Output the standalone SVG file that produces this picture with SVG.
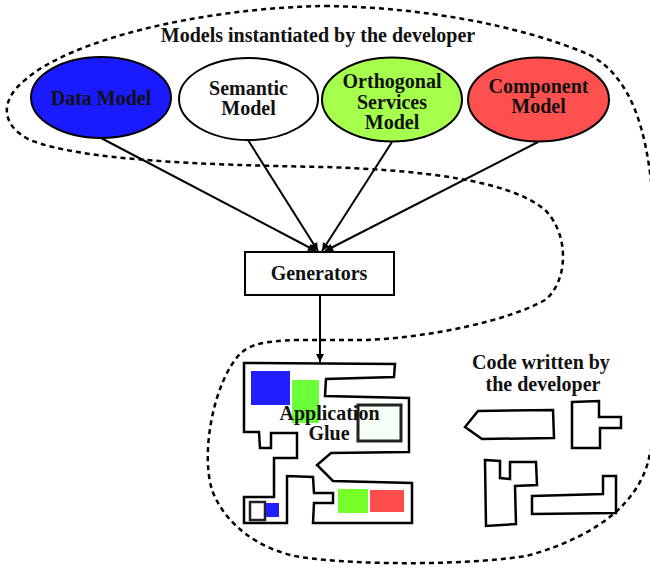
<svg xmlns="http://www.w3.org/2000/svg" width="650" height="567" viewBox="0 0 650 567">
<defs>
<marker id="arr" viewBox="0 0 10 10" refX="10" refY="5" markerWidth="10" markerHeight="8" markerUnits="userSpaceOnUse" orient="auto">
<path d="M0,0 L10,5 L0,10 Z" fill="#000"/>
</marker>
</defs>
<style>
text{font-family:"Liberation Serif","Times New Roman",serif;font-weight:bold;font-size:20px;fill:#111;text-anchor:middle}
.node{stroke:#000;stroke-width:2}
.edge{stroke:#000;stroke-width:2;fill:none;marker-end:url(#arr)}
.dash{fill:none;stroke:#000;stroke-width:2.5;stroke-dasharray:5,4}
.piece{fill:none;stroke:#000;stroke-width:2.5;stroke-linejoin:miter}
</style>
<rect width="650" height="567" fill="#fff"/>
<path class="dash" d="M325,6 C420,7 520,25 590,55 C632,78 646,130 652,190 C672,280 672,390 650,453 C642,500 600,535 530,555 C480,565 360,566 300,557 C260,550 225,525 212,490 C200,450 215,380 240,354 C250,344 265,341 297,340 L363,340 C430,338 510,320 545,300 C568,282 570,235 545,210 C510,180 420,170 325,167 C200,165 80,160 30,140 C0,125 0,100 25,80 C70,40 200,8 325,6 Z"/>
<text x="318" y="42">Models instantiated by the developer</text>
<g id="connectors">
<line class="edge" x1="101" y1="138" x2="316" y2="251"/>
<line class="edge" x1="248" y1="140" x2="318" y2="251"/>
<line class="edge" x1="392" y1="142" x2="322" y2="251"/>
<line class="edge" x1="538" y1="142" x2="325" y2="251"/>
<line class="edge" x1="320" y1="295" x2="320" y2="362"/>
</g>
<g id="data-model">
<ellipse class="node" cx="101" cy="97.5" rx="70" ry="40.5" fill="#1a1aff"/>
<text x="101" y="105">Data Model</text>
</g>
<g id="semantic-model">
<ellipse class="node" cx="248.5" cy="99" rx="69.5" ry="41" fill="#fff"/>
<text x="248.5" y="95">Semantic</text>
<text x="248.5" y="115">Model</text>
</g>
<g id="orthogonal-services-model">
<ellipse class="node" cx="392" cy="99.5" rx="70" ry="42" fill="#a6ff4d"/>
<text x="392" y="88">Orthogonal</text>
<text x="392" y="109">Services</text>
<text x="392" y="129">Model</text>
</g>
<g id="component-model">
<ellipse class="node" cx="538.5" cy="99.5" rx="70.5" ry="42" fill="#ff5050"/>
<text x="538.5" y="93">Component</text>
<text x="538.5" y="113">Model</text>
</g>
<g id="generators">
<rect class="node" x="245" y="252" width="149" height="43" fill="#fff"/>
<text x="319" y="280">Generators</text>
</g>
<g id="application-glue">
<polygon class="piece" points="244,363 395,364 394,377 326,379 325,396 409,398 409,452 331,453 317,465 333,481 412,483 412,523 313,523 314,503 333,503 333,493 314,493 313,477 287,476 287,523 244,523 244,497 274,497 274,458 297,458 297,433 271,433 271,448 260,448 259,432 244,432"/>
<rect x="251" y="371" width="39" height="34" fill="#1f1fff"/>
<rect x="292" y="380" width="27" height="43" fill="#6dff3a"/>
<rect x="358" y="405" width="43" height="36" fill="#f5fff5" stroke="#222" stroke-width="3"/>
<rect x="250" y="502" width="15" height="18" fill="#fff" stroke="#222" stroke-width="2.5"/>
<rect x="266" y="503" width="13" height="14" fill="#1f1fff"/>
<rect x="338" y="489" width="30" height="24" fill="#77ff2a"/>
<rect x="370" y="490" width="34" height="22" fill="#ff4d4d"/>
<text x="329.5" y="420">Application</text>
<text x="329" y="440">Glue</text>
</g>
<g id="developer-code">
<text x="541" y="369">Code written by</text>
<text x="543" y="391">the developer</text>
<polygon class="piece" points="465,427 478,411 553,410 554,438 482,439"/>
<polygon class="piece" points="572,402 599,401 599,417 621,417 621,428 600,428 600,448 572,448"/>
<polygon class="piece" points="485,460 500,461 500,478 510,479 510,462 536,462 537,485 515,486 516,524 486,526"/>
<polygon class="piece" points="532,496 603,494 603,476 616,476 616,513 532,514"/>
</g>
</svg>
